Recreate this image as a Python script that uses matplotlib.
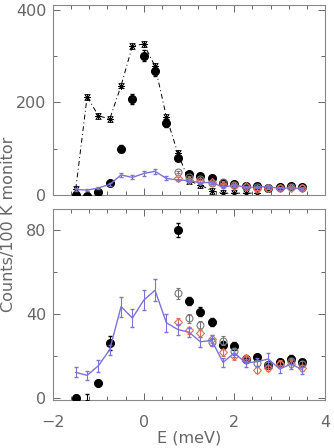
import numpy as np
import matplotlib
matplotlib.use('Agg')
import matplotlib.pyplot as plt
from matplotlib.ticker import MultipleLocator

# energy grid (meV)
energy = [-1.5, -1.25, -1.0, -0.75, -0.5, -0.25, 0.0, 0.25, 0.5, 0.75, 1.0,
          1.25, 1.5, 1.75, 2.0, 2.25, 2.5, 2.75, 3.0, 3.25, 3.5]

# filled black circles
dots = [0, -3, 7, 26, 100, 207, 301, 267, 155, 80, 46, 41, 36, 25, 24.5,
        18.6, 19.4, 15.7, 16.8, 18.6, 17.1]
dots_err = [1, 4.5, 1.6, 3.4, 7, 10, 12, 10, 8, 3.5, 2, 2, 2, 2, 2,
            1.5, 1.5, 1.5, 1.5, 1.5, 1.5]

# open grey circles and red diamonds (E >= 0.75)
energy_hi = [0.75, 1.0, 1.25, 1.5, 1.75, 2.0, 2.25, 2.5, 2.75, 3.0, 3.25, 3.5]
circles = [49.7, 37.9, 34.4, 26.6, 27.2, 22, 18, 16.5, 15.5, 16, 17.5, 16]
circles_err = [2.5, 2.2, 2, 2, 2, 1.8, 1.6, 1.6, 1.6, 1.6, 1.6, 1.6]
diamonds = [36.2, 32.1, 30.9, 28, 21.6, 19.7, 18.9, 13.3, 14.1, 16.2, 16.2, 14.1]
diamonds_err = [1.8, 1.8, 2, 2, 1.6, 1.6, 1.5, 1.5, 1.5, 1.5, 1.5, 1.5]

# blue line
blue = [12.0, 10.6, 15.2, 22.9, 43.4, 37.9, 46.5, 51.2, 35.7, 32.5, 31.2,
        26.6, 27.3, 16.8, 21.3, 16.5, 17.1, 18.4, 13.6, 16, 13.3]
blue_err = [2.4, 2, 2.8, 2.4, 4.8, 4.4, 4.9, 5.2, 4.3, 2.5, 2.2, 2.5, 2.5,
            2, 2, 2, 2, 2.8, 2, 2.2, 2]

# asterisks (top panel only)
energy_star = energy[:17]
stars = [13, 212, 171, 164, 236, 322, 326, 278, 169, 91, 30, 22, 9, 4, 4, 4, 4]
stars_err = [6] * 17

GREY = '#666666'
BLUE = '#7b74d6'
RED = '#e0705a'

plt.rcParams['font.family'] = ['DejaVu Sans']
plt.rcParams['font.size'] = 11.5

fig = plt.figure(figsize=(3.34, 4.48), dpi=100)
ax1 = fig.add_axes([0.159, 0.5647, 0.814, 0.424])
ax2 = fig.add_axes([0.159, 0.107, 0.814, 0.4265])


def draw(ax, with_stars):
    if with_stars:
        ax.errorbar(energy_star, stars, yerr=stars_err, color='black',
                    lw=0.7, ls=(0, (5, 3, 1, 3)), marker=(8, 2, 0), ms=5,
                    mew=0.6, elinewidth=0.5, capsize=2, capthick=0.5,
                    zorder=2)
    ax.errorbar(energy, dots, yerr=dots_err, fmt='o', color='black', ms=5.5,
                elinewidth=0.8, capsize=1.5, zorder=3)
    ax.errorbar(energy_hi, circles, yerr=circles_err, fmt='o', mfc='none',
                mec='#777777', color='#777777', ms=5, mew=0.8,
                elinewidth=0.8, capsize=1.5, zorder=4)
    ax.errorbar(energy_hi, diamonds, yerr=diamonds_err, fmt='D', mfc='none',
                mec=RED, color=RED, ms=4, mew=0.8, elinewidth=0.8,
                capsize=1.5, zorder=5)
    ax.errorbar(energy, blue, yerr=blue_err, color=BLUE, lw=1.0,
                elinewidth=0.8, capsize=1.5, zorder=6)
    ax.set_xlim(-2, 4)
    ax.xaxis.set_major_locator(MultipleLocator(2))
    ax.xaxis.set_minor_locator(MultipleLocator(0.4))
    ax.tick_params(which='both', direction='in', top=True, right=True,
                   colors=GREY, labelcolor=GREY, width=0.7)
    ax.tick_params(which='major', length=5, pad=5)
    ax.tick_params(axis='x', which='major', pad=11)
    ax.tick_params(which='minor', length=3)
    for s in ax.spines.values():
        s.set_color('#888888')
        s.set_linewidth(0.8)


draw(ax1, True)
ax1.set_ylim(0, 410)
ax1.yaxis.set_major_locator(MultipleLocator(200))
ax1.yaxis.set_minor_locator(MultipleLocator(100))
ax1.set_xticklabels([])

draw(ax2, False)
ax2.set_ylim(-1.2, 90)
ax2.yaxis.set_major_locator(MultipleLocator(40))
ax2.yaxis.set_minor_locator(MultipleLocator(20))
ax2.set_xlabel('E (meV)', color=GREY, labelpad=0)

fig.text(0.025, 0.5, 'Counts/100 K monitor', rotation=90, va='center',
         ha='center', color=GREY)

fig.savefig('out.png', dpi=100)
